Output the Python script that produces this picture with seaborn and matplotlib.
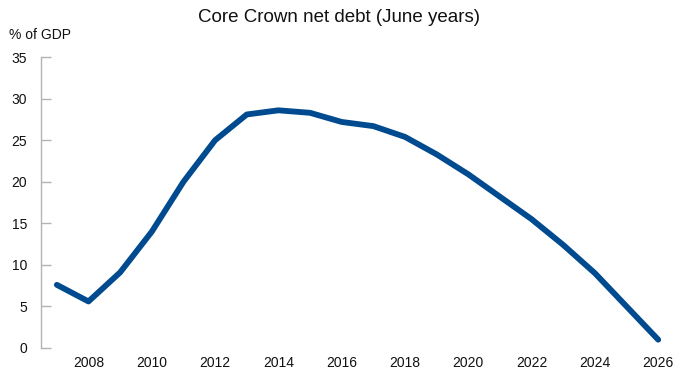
import matplotlib

matplotlib.use('Agg')
import numpy as np
import pandas as pd
import matplotlib.pyplot as plt
import seaborn as sns

# June years and core Crown net debt (% of GDP)
years = [2007, 2008, 2009, 2010, 2011, 2012, 2013, 2014, 2015, 2016,
         2017, 2018, 2019, 2020, 2021, 2022, 2023, 2024, 2025, 2026]
net_debt = [7.6, 5.6, 9.1, 14.0, 20.0, 25.0, 28.1, 28.6, 28.3, 27.2,
            26.7, 25.4, 23.3, 20.9, 18.2, 15.5, 12.4, 9.0, 5.0, 1.0]
xtick_years = [2008, 2010, 2012, 2014, 2016, 2018, 2020, 2022, 2024, 2026]
ytick_values = [0, 5, 10, 15, 20, 25, 30, 35]

sns.set_style('white')
plt.rcParams['font.family'] = ['Liberation Sans', 'DejaVu Sans']

df = pd.DataFrame({'year': years, 'debt': net_debt})

fig = plt.figure(figsize=(6.78, 3.71), dpi=100)
ax = fig.add_axes([0.0605, 0.062, 0.936, 0.784])

sns.lineplot(data=df, x='year', y='debt', color='#004a8f', linewidth=4.2,
             solid_capstyle='round', ax=ax)

ax.set_xlim(2006.5, 2026.55)
ax.set_ylim(0, 35)
ax.set_xticks(xtick_years)
ax.set_yticks(ytick_values)
ax.set_xlabel('')
ax.set_ylabel('')

# only the left axis line is shown, with short inward ticks
for side in ['top', 'right', 'bottom']:
    ax.spines[side].set_visible(False)
ax.spines['left'].set_color('#b3b3b3')
ax.spines['left'].set_linewidth(1.0)
ax.tick_params(axis='y', left=True, direction='in', length=7, width=1.0, color='#b3b3b3',
               labelsize=10, pad=10, labelcolor='#111111')
ax.tick_params(axis='x', bottom=False, length=0, labelsize=10, pad=6, labelcolor='#111111')

fig.text(0.5, 0.953, 'Core Crown net debt (June years)', ha='center', va='center',
         fontsize=13.5, color='#111111')
fig.text(0.014, 0.905, '% of GDP', ha='left', va='center', fontsize=10, color='#111111')

fig.savefig('out.png', dpi=100)
plt.close()
